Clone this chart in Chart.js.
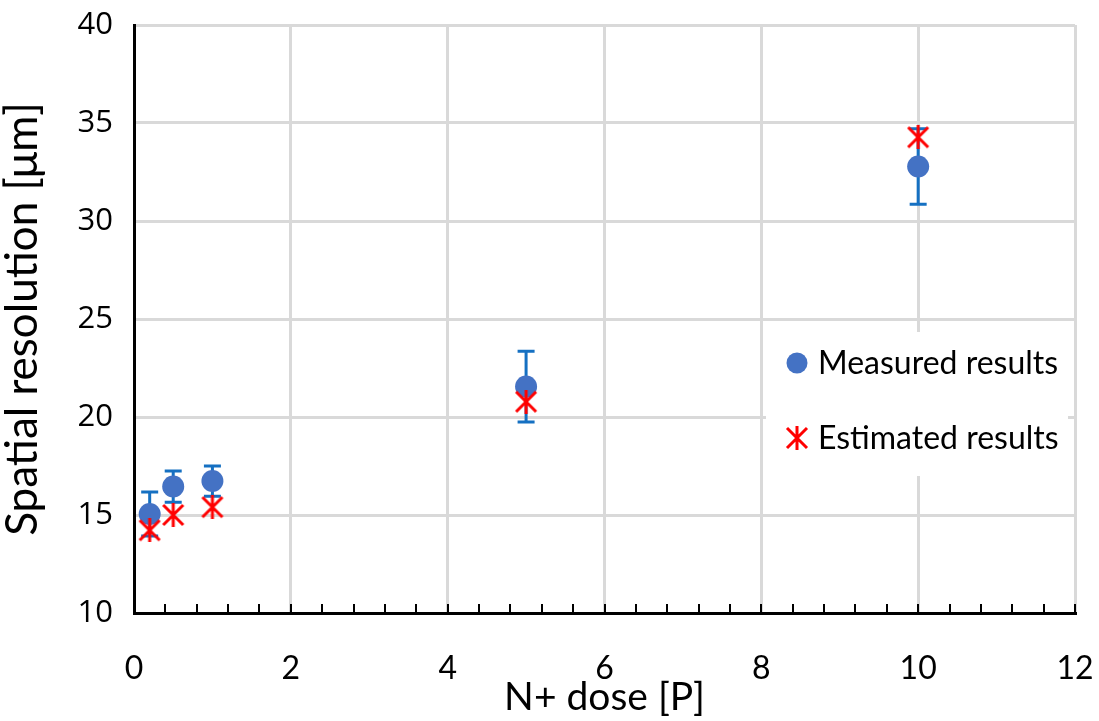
<!DOCTYPE html>
<html>
<head>
<meta charset="utf-8">
<script src="https://cdn.jsdelivr.net/npm/chart.js@4.4.1/dist/chart.umd.min.js"></script>
<style>
  html, body { margin: 0; padding: 0; background: #fff; }
  #wrap { width: 1099px; height: 721px; }
</style>
</head>
<body>
<div id="wrap"><canvas id="grafico"></canvas></div>
<script>
// dose values and spatial resolution, measured vs estimated
var doses = [0.2, 0.5, 1, 5, 10];
var measured = [15.05, 16.45, 16.73, 21.55, 32.78];
var measuredErr = [1.12, 0.8, 0.77, 1.8, 1.93];
var estimated = [14.22, 15.0, 15.4, 20.78, 34.27];
var seriesNames = ["Measured results", "Estimated results"];
var xTicks = [0, 2, 4, 6, 8, 10, 12];
var yTicks = [10, 15, 20, 25, 30, 35, 40];

var azul = '#4472C4';
var azulBarra = '#1570C2';
var rojo = '#FF0000';
var fuente = 'Lato, "Open Sans", sans-serif';

// asterisk marker: an X with a vertical stroke
function estrella(size) {
  var c = document.createElement('canvas');
  c.width = size; c.height = size;
  var g = c.getContext('2d');
  g.strokeStyle = rojo;
  g.lineWidth = 3;
  var m = 2, s = size - 2;
  g.beginPath();
  g.moveTo(m, m); g.lineTo(s, s);
  g.moveTo(s, m); g.lineTo(m, s);
  g.moveTo(size / 2, 0); g.lineTo(size / 2, size);
  g.stroke();
  return c;
}
var marcaRoja = estrella(24);

function puntos(ys) {
  return doses.map(function (d, i) { return { x: d, y: ys[i] }; });
}

// error bars under the markers, minor ticks on the x axis, legend box
var extras = {
  id: 'extras',
  beforeDatasetsDraw: function (chart) {
    var ctx = chart.ctx, x = chart.scales.x, y = chart.scales.y;
    ctx.save();
    ctx.strokeStyle = azulBarra;
    ctx.lineWidth = 3;
    doses.forEach(function (d, i) {
      var px = x.getPixelForValue(d);
      var top = y.getPixelForValue(measured[i] + measuredErr[i]);
      var bot = y.getPixelForValue(measured[i] - measuredErr[i]);
      ctx.beginPath();
      ctx.moveTo(px, top); ctx.lineTo(px, bot);
      ctx.moveTo(px - 8.5, top); ctx.lineTo(px + 8.5, top);
      ctx.moveTo(px - 8.5, bot); ctx.lineTo(px + 8.5, bot);
      ctx.stroke();
    });
    ctx.restore();
  },
  afterDraw: function (chart) {
    var ctx = chart.ctx, x = chart.scales.x;
    var base = chart.chartArea.bottom;
    ctx.save();
    ctx.strokeStyle = '#000';
    ctx.lineWidth = 2;
    for (var k = 0; k <= 30; k++) {
      var px = Math.round(x.getPixelForValue(k * 0.4));
      ctx.beginPath();
      ctx.moveTo(px, base);
      ctx.lineTo(px, base - 9);
      ctx.stroke();
    }
    // legend
    ctx.fillStyle = '#fff';
    ctx.fillRect(766, 332, 302, 144);
    ctx.fillStyle = azul;
    ctx.beginPath();
    ctx.arc(797, 363, 10.5, 0, Math.PI * 2);
    ctx.fill();
    ctx.drawImage(marcaRoja, 797 - 12, 438 - 12);
    ctx.fillStyle = '#000';
    ctx.font = '32px ' + fuente;
    ctx.textBaseline = 'middle';
    ctx.fillText(seriesNames[0], 818, 364);
    ctx.fillText(seriesNames[1], 818, 439);
    ctx.restore();
  }
};

var grafico = new Chart(document.getElementById('grafico').getContext('2d'), {
  type: 'scatter',
  data: {
    datasets: [{
      label: seriesNames[0],
      data: puntos(measured),
      pointStyle: 'circle',
      pointRadius: 11,
      pointHoverRadius: 11,
      backgroundColor: azul,
      borderColor: azul,
      borderWidth: 0,
      order: 1
    }, {
      label: seriesNames[1],
      data: puntos(estimated),
      pointStyle: marcaRoja,
      pointRadius: 12,
      order: 0
    }]
  },
  options: {
    responsive: true,
    maintainAspectRatio: false,
    animation: false,
    layout: { padding: { top: 25, right: 24, left: 0, bottom: 0 } },
    plugins: { legend: { display: false }, tooltip: { enabled: false } },
    scales: {
      x: {
        type: 'linear',
        min: 0, max: 12,
        afterBuildTicks: function (s) { s.ticks = xTicks.map(function (v) { return { value: v }; }); },
        afterFit: function (s) { s.height = 108; s.paddingLeft = 0; s.paddingRight = 0; },
        grid: { color: '#D9D9D9', lineWidth: 3, drawTicks: false },
        border: { color: '#000', width: 3 },
        ticks: { padding: 36, color: '#000', font: { family: fuente, size: 32 } },
        title: {
          display: true, text: 'N+ dose [P]', color: '#000',
          font: { family: fuente, size: 39 }, padding: { top: -12, bottom: 0 }
        }
      },
      y: {
        min: 10, max: 40,
        afterBuildTicks: function (s) { s.ticks = yTicks.map(function (v) { return { value: v }; }); },
        afterFit: function (s) { s.width = 134; s.paddingTop = 0; s.paddingBottom = 0; },
        grid: { color: '#D9D9D9', lineWidth: 3, drawTicks: false },
        border: { color: '#000', width: 3 },
        ticks: { padding: 21, color: '#000', font: { family: '"Open Sans", sans-serif', size: 31 } },
        title: {
          display: true, text: 'Spatial resolution [μm]', color: '#000',
          font: { family: fuente, size: 44 }, padding: { top: -4, bottom: 0 }
        }
      }
    }
  },
  plugins: [extras]
});
</script>
</body>
</html>
